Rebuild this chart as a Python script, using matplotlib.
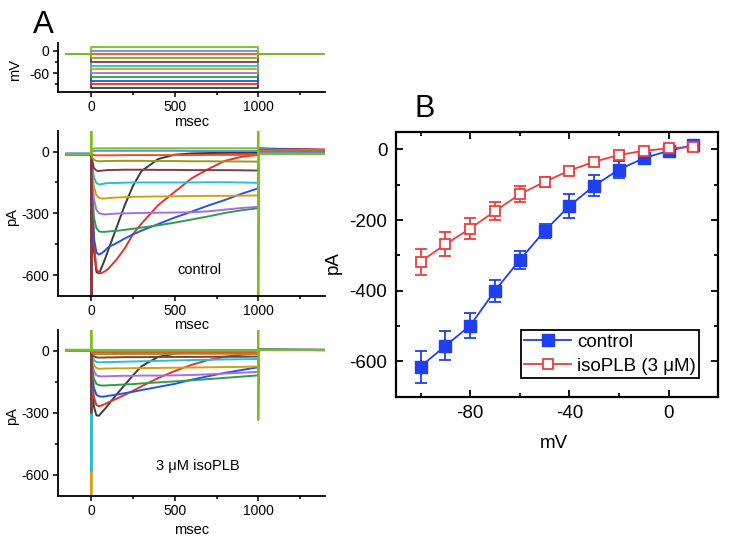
import matplotlib
matplotlib.use('Agg')
import matplotlib.pyplot as plt
from matplotlib.ticker import MultipleLocator
from matplotlib.lines import Line2D

plt.rcParams['font.family'] = ['Liberation Sans', 'DejaVu Sans']
plt.rcParams['axes.unicode_minus'] = False

# ---- panel A data ----
steps_mV = [-100, -90, -80, -70, -60, -50, -40, -30, -20, -10, 0, 10]
trace_colors = ['#3c3c3c', '#e8322c', '#2255e0', '#2e9e4e', '#a66ee0', '#d4a10e',
                '#1ec4d4', '#803c44', '#9c9a1c', '#f0501e', '#5a8ee8', '#7cbf1c']
hold_mV = -10
t_start, t_on, t_off, t_end = -150, 0, 1000, 1400

# sample times during the step (ms)
t_step = [0, 5, 15, 30, 45, 60, 80, 100, 150, 200, 250, 300, 400, 500, 600, 700, 800, 900, 1000]
t_tail = [1005, 1100, 1400]

# control currents (pA), one row per step
ctrl_hold = [-15, -14, -15, -13, -14, -15, -12, -13, -16, -14, -8, -13]
ctrl_step = [
    [-15, -250, -480, -585, -592, -565, -525, -480, -370, -260, -165, -95, -36, -15, -9, -7, -6, -6, -6],
    [-14, -220, -440, -570, -590, -590, -582, -570, -525, -470, -400, -350, -260, -195, -130, -85, -45, -25, -16],
    [-15, -200, -420, -490, -500, -495, -482, -465, -445, -422, -402, -384, -352, -320, -292, -262, -235, -205, -178],
    [-13, -150, -320, -372, -387, -390, -390, -388, -385, -380, -375, -369, -358, -345, -330, -315, -298, -285, -275],
    [-14, -110, -230, -283, -298, -303, -305, -304, -301, -300, -299, -298, -297, -296, -295, -290, -282, -274, -268],
    [-15, -80, -170, -212, -224, -228, -228, -226, -223, -221, -220, -219, -218, -217, -216, -215, -215, -214, -213],
    [-12, -60, -125, -152, -160, -158, -155, -153, -152, -151, -150, -150, -150, -150, -150, -149, -149, -150, -152],
    [-13, -45, -80, -92, -95, -93, -91, -90, -89, -88, -88, -88, -89, -89, -90, -90, -90, -91, -92],
    [-16, -30, -40, -45, -47, -47, -46, -46, -45, -45, -45, -45, -46, -46, -47, -47, -48, -48, -49],
    [-14, -16, -17, -18, -18, -18, -18, -18, -18, -17, -17, -17, -17, -17, -17, -16, -16, -16, -16],
    [-8, 0, 3, 4, 4, 4, 4, 4, 4, 4, 4, 4, 4, 4, 3, 3, 3, 3, 3],
    [-13, 12, 15, 16, 16, 16, 16, 16, 16, 16, 16, 16, 16, 16, 16, 16, 16, 16, 16],
]
ctrl_tail = [[14, 12, 8], [16, 14, 10], [14, 12, 8], [12, 9, 5], [12, 8, 5], [10, 7, 4],
             [10, 6, 4], [8, 5, 3], [5, 3, 2], [2, 0, 0], [-5, -6, -6], [-12, -12, -12]]
# capacitive transients (pA) at step on / off
ctrl_on_hi = [-15, -14, -15, -13, -14, -15, -12, -13, -16, -14, -8, 150]
ctrl_on_lo = [-750, -750, -15, -13, -14, -15, -12, -750, -16, -14, -8, -13]
ctrl_off_hi = [-6, -16, -178, -275, -268, -213, -152, -92, -49, -16, 3, 150]
ctrl_off_lo = [-6, -16, -178, -275, -268, -213, -152, -92, -49, -16, 3, -750]

# 3 uM isoPLB currents (pA)
iso_hold = [3, 2, 3, 4, 2, 3, 3, 2, 4, 3, 2, 4]
iso_step = [
    [0, -150, -270, -312, -314, -300, -282, -262, -212, -165, -118, -75, -30, -14, -8, -5, -4, -4, -4],
    [0, -120, -225, -262, -268, -265, -258, -250, -232, -213, -193, -172, -132, -98, -68, -45, -29, -19, -14],
    [0, -100, -180, -212, -220, -222, -221, -218, -212, -205, -198, -190, -175, -160, -140, -123, -107, -93, -80],
    [0, -70, -135, -160, -166, -168, -168, -167, -165, -163, -161, -158, -153, -148, -143, -137, -131, -125, -119],
    [0, -50, -100, -118, -123, -124, -124, -123, -122, -121, -121, -120, -120, -119, -117, -114, -110, -106, -102],
    [0, -35, -70, -83, -87, -87, -86, -86, -85, -85, -84, -84, -83, -82, -81, -80, -79, -78, -76],
    [0, -25, -45, -54, -56, -56, -55, -55, -54, -53, -52, -51, -49, -47, -45, -44, -42, -41, -40],
    [0, -15, -27, -32, -33, -33, -33, -32, -32, -31, -31, -31, -30, -30, -30, -29, -29, -29, -28],
    [0, -10, -15, -17, -17, -17, -17, -17, -16, -16, -16, -16, -16, -15, -15, -15, -15, -15, -15],
    [0, -5, -8, -9, -9, -9, -9, -9, -9, -8, -8, -8, -8, -8, -8, -8, -8, -8, -8],
    [0, 0, -2, -2, -2, -2, -2, -2, -2, -2, -2, -2, -2, -2, -2, -2, -2, -2, -2],
    [2, 4, 4, 4, 4, 4, 4, 4, 4, 4, 4, 4, 4, 4, 4, 4, 4, 4, 4],
]
iso_tail = [[6, 5, 4], [6, 5, 4], [6, 5, 4], [6, 5, 4], [5, 4, 4], [5, 4, 3],
            [5, 4, 3], [5, 4, 3], [4, 4, 3], [4, 3, 3], [3, 3, 3], [4, 4, 4]]
iso_on_hi = [3, 2, 3, 4, 2, 3, 3, 2, 4, 3, 2, 150]
iso_on_lo = [3, -370, 3, 4, 2, -750, -580, -300, 4, 3, 2, 4]
iso_off_hi = [-4, -14, -80, -119, -102, -76, -40, -28, -15, -8, -2, 150]
iso_off_lo = [-4, -14, -80, -119, -102, -76, -40, -28, -15, -8, -2, -335]

# ---- panel B data ----
iv_mV = [-100, -90, -80, -70, -60, -50, -40, -30, -20, -10, 0, 10]
ctrl_pA = [-615, -556, -499, -400, -313, -231, -160, -103, -57, -25, -4, 12]
ctrl_sem = [45, 41, 35, 31, 25, 21, 34, 30, 23, 8, 5, 5]
iso_pA = [-318, -269, -224, -175, -127, -92, -60, -35, -16, -4, 3, 7]
iso_sem = [37, 34, 29, 25, 22, 15, 8, 8, 8, 6, 5, 5]

blue = '#1f3ff0'
red = '#f03c3c'

fig = plt.figure(figsize=(7.29, 5.36), dpi=100)
ax_v = fig.add_axes([0.0796, 0.8284, 0.3663, 0.0914])
ax_c = fig.add_axes([0.0796, 0.4483, 0.3663, 0.3073])
ax_i = fig.add_axes([0.0796, 0.0752, 0.3663, 0.3091])
ax_b = fig.add_axes([0.5428, 0.2599, 0.4425, 0.4944])


def style_a(ax):
    for s in ['top', 'right']:
        ax.spines[s].set_visible(False)
    for s in ['left', 'bottom']:
        ax.spines[s].set_linewidth(1.3)
    ax.set_xlim(-200, 1400)
    ax.xaxis.set_major_locator(MultipleLocator(500))
    ax.xaxis.set_minor_locator(MultipleLocator(250))
    ax.tick_params(which='both', direction='out', width=1.1, labelsize=10, pad=2.5)
    ax.tick_params(which='major', length=3.5)
    ax.tick_params(which='minor', length=2)


# voltage protocol
for v, c in zip(steps_mV, trace_colors):
    ax_v.plot([t_start, t_on, t_on, t_off, t_off, t_end],
              [hold_mV, hold_mV, v, v, hold_mV, hold_mV], color=c, lw=1.3)
style_a(ax_v)
ax_v.set_ylim(-110, 20)
ax_v.yaxis.set_major_locator(MultipleLocator(60))
ax_v.yaxis.set_minor_locator(MultipleLocator(30))
ax_v.set_ylabel('mV', fontsize=10.5)
ax_v.yaxis.set_label_coords(-0.135, 0.45)
ax_v.set_xlabel('msec', fontsize=10.5)
ax_v.xaxis.set_label_coords(0.5, -0.47)


def draw_traces(ax, hold, step, tail, on_hi, on_lo, off_hi, off_lo):
    for i, c in enumerate(trace_colors):
        x = [t_start, t_on, t_on, t_on] + t_step + [t_off, t_off] + t_tail
        y = ([hold[i], hold[i], on_hi[i], on_lo[i]] + step[i]
             + [off_hi[i], off_lo[i]] + tail[i])
        ax.plot(x, y, color=c, lw=1.4)
    style_a(ax)
    ax.set_ylim(-700, 100)
    ax.yaxis.set_major_locator(MultipleLocator(300))
    ax.yaxis.set_minor_locator(MultipleLocator(150))
    ax.set_ylabel('pA', fontsize=10.5)
    ax.yaxis.set_label_coords(-0.146, 0.48)
    ax.set_xlabel('msec', fontsize=10.5)


draw_traces(ax_c, ctrl_hold, ctrl_step, ctrl_tail, ctrl_on_hi, ctrl_on_lo, ctrl_off_hi, ctrl_off_lo)
ax_c.xaxis.set_label_coords(0.5, -0.135)
ax_c.text(650, -575, 'control', ha='center', va='center', fontsize=10.5)

draw_traces(ax_i, iso_hold, iso_step, iso_tail, iso_on_hi, iso_on_lo, iso_off_hi, iso_off_lo)
ax_i.xaxis.set_label_coords(0.5, -0.167)
ax_i.text(635, -555, '3 \u03bcM isoPLB', ha='center', va='center', fontsize=10.5)

# panel B: I-V curves
ax_b.errorbar(iv_mV, ctrl_pA, yerr=ctrl_sem, color=blue, marker='s', ms=8, lw=1.3,
              elinewidth=1.3, capsize=4, capthick=1.3)
ax_b.errorbar(iv_mV, iso_pA, yerr=iso_sem, color=red, marker='s', ms=7.5, mfc='white',
              mec=red, mew=1.3, lw=1.3, elinewidth=1.3, capsize=4, capthick=1.3)
ax_b.set_xlim(-110, 20)
ax_b.set_ylim(-700, 50)
ax_b.xaxis.set_major_locator(MultipleLocator(40))
ax_b.xaxis.set_minor_locator(MultipleLocator(20))
ax_b.yaxis.set_major_locator(MultipleLocator(200))
ax_b.yaxis.set_minor_locator(MultipleLocator(100))
for s in ax_b.spines.values():
    s.set_linewidth(1.6)
ax_b.tick_params(which='both', direction='in', top=True, right=True, width=1.3,
                 labelsize=13.5, pad=6)
ax_b.tick_params(which='major', length=5)
ax_b.tick_params(which='minor', length=3)
ax_b.set_xlabel('mV', fontsize=13.5)
ax_b.xaxis.set_label_coords(0.49, -0.145)
ax_b.set_ylabel('pA', fontsize=13.5)
ax_b.yaxis.set_label_coords(-0.166, 0.505)

handles = [Line2D([], [], color=blue, marker='s', ms=8, lw=1.3),
           Line2D([], [], color=red, marker='s', ms=7.5, mfc='white', mec=red, mew=1.3, lw=1.3)]
leg = ax_b.legend(handles, ['control', 'isoPLB (3 \u03bcM)'], loc='lower right',
                  bbox_to_anchor=(0.941, 0.069), borderaxespad=0, fontsize=13.5,
                  frameon=True, fancybox=False, edgecolor='black', framealpha=1,
                  handlelength=2.5, handletextpad=0.3, borderpad=0.2, labelspacing=0.35)
leg.get_frame().set_linewidth(1.3)

fig.text(0.045, 1 - 33.3 / 536, 'A', fontsize=22.5, ha='left', va='baseline')
fig.text(0.569, 1 - 116.7 / 536, 'B', fontsize=22, ha='left', va='baseline')

fig.savefig('out.png', dpi=100)
